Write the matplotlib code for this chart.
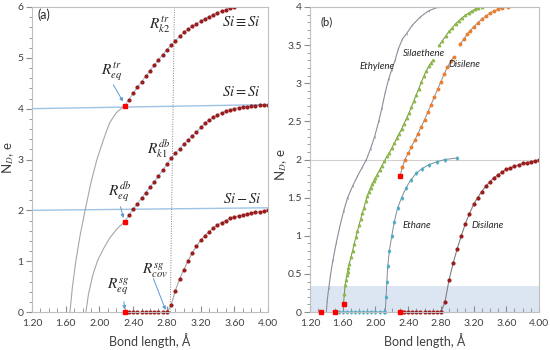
import matplotlib
matplotlib.use("Agg")
import matplotlib.pyplot as plt
from matplotlib.ticker import MultipleLocator, FormatStrFormatter

plt.rcParams["font.family"] = ["Lato", "DejaVu Sans"]
plt.rcParams["mathtext.fontset"] = "stix"

# ---- panel (a): Si-Si bond orders ----
tr_pre_x = [1.65, 1.68, 1.72, 1.77, 1.83, 1.90, 1.97, 2.05, 2.12, 2.20, 2.30]
tr_pre_y = [0.0, 0.5, 1.0, 1.5, 2.0, 2.55, 3.0, 3.4, 3.72, 3.92, 4.06]
tr_x = [2.30, 2.35, 2.40, 2.45, 2.50, 2.55, 2.60, 2.65, 2.70, 2.75, 2.80, 2.85, 2.90, 2.95,
        3.00, 3.05, 3.10, 3.15, 3.20, 3.25, 3.30, 3.35, 3.40, 3.45, 3.50, 3.55, 3.60]
tr_y = [4.06, 4.18, 4.30, 4.42, 4.53, 4.64, 4.75, 4.86, 4.96, 5.06, 5.16, 5.25, 5.34, 5.42,
        5.50, 5.56, 5.62, 5.67, 5.72, 5.77, 5.81, 5.85, 5.89, 5.92, 5.95, 5.98, 6.00]

db_pre_x = [1.84, 1.87, 1.92, 1.98, 2.05, 2.12, 2.20, 2.30]
db_pre_y = [0.0, 0.35, 0.72, 1.02, 1.25, 1.45, 1.62, 1.78]
db_x = [2.30, 2.35, 2.40, 2.45, 2.50, 2.55, 2.60, 2.65, 2.70, 2.75, 2.80, 2.85, 2.90, 2.95,
        3.00, 3.05, 3.10, 3.15, 3.20, 3.25, 3.30, 3.35, 3.40, 3.45, 3.50, 3.55, 3.60, 3.65,
        3.70, 3.75, 3.80, 3.85, 3.90, 3.95, 4.00]
db_y = [1.78, 1.90, 2.02, 2.13, 2.24, 2.35, 2.46, 2.56, 2.67, 2.79, 2.91, 3.02, 3.12, 3.21,
        3.30, 3.38, 3.46, 3.54, 3.63, 3.71, 3.77, 3.83, 3.88, 3.92, 3.95, 3.98, 4.00, 4.02,
        4.03, 4.04, 4.05, 4.06, 4.07, 4.075, 4.08]

sg_flat_x = [2.30, 2.35, 2.40, 2.45, 2.50, 2.55, 2.60, 2.65, 2.70, 2.75, 2.80]
sg_flat_y = [0.0] * 11
sg_x = [2.80, 2.85, 2.90, 2.95, 3.00, 3.05, 3.10, 3.15, 3.20, 3.25, 3.30, 3.35, 3.40, 3.45,
        3.50, 3.55, 3.60, 3.65, 3.70, 3.75, 3.80, 3.85, 3.90, 3.95, 4.00]
sg_y = [0.0, 0.13, 0.42, 0.64, 0.83, 1.00, 1.16, 1.29, 1.41, 1.50, 1.58, 1.65, 1.71, 1.76,
        1.80, 1.84, 1.87, 1.89, 1.91, 1.93, 1.95, 1.96, 1.97, 1.98, 2.00]

eq_a_x = [2.30, 2.30, 2.30]
eq_a_y = [4.06, 1.78, 0.0]

# ---- panel (b): molecules ----
ethylene_x = [1.40, 1.41, 1.43, 1.45, 1.48, 1.52, 1.56, 1.61, 1.66, 1.72, 1.78, 1.84, 1.89, 1.94,
              1.99, 2.04, 2.08, 2.12, 2.16, 2.20, 2.24, 2.28, 2.33, 2.38, 2.45, 2.55, 2.65, 2.77]
ethylene_y = [0.0, 0.15, 0.32, 0.48, 0.68, 0.90, 1.10, 1.32, 1.50, 1.65, 1.78, 1.90, 2.0, 2.14,
              2.30, 2.50, 2.68, 2.88, 3.05, 3.18, 3.30, 3.45, 3.58, 3.65, 3.76, 3.87, 3.95, 4.0]

silaethene_x = [1.61, 1.62, 1.63, 1.64, 1.65, 1.66, 1.67, 1.68, 1.70, 1.72, 1.74, 1.76, 1.78, 1.80,
                1.82, 1.84, 1.86, 1.88, 1.90, 1.92, 1.94, 1.96, 1.98, 2.00, 2.02, 2.05, 2.08, 2.11,
                2.14, 2.17, 2.20, 2.23, 2.26, 2.29, 2.32, 2.35, 2.38, 2.41, 2.44, 2.47, 2.50, 2.53,
                2.56, 2.59, 2.62, 2.65, 2.68, 2.71]
silaethene_y = [0.11, 0.24, 0.36, 0.42, 0.48, 0.53, 0.58, 0.63, 0.72, 0.80, 0.89, 0.98, 1.06, 1.14,
                1.22, 1.30, 1.37, 1.45, 1.52, 1.58, 1.63, 1.68, 1.72, 1.76, 1.80, 1.86, 1.92, 1.98,
                2.04, 2.09, 2.15, 2.21, 2.28, 2.34, 2.40, 2.47, 2.54, 2.61, 2.69, 2.77, 2.85, 2.93,
                3.01, 3.09, 3.16, 3.22, 3.27, 3.31]
silaethene2_x = [2.78, 2.82, 2.86, 2.90, 2.94, 2.98, 3.02, 3.06, 3.10, 3.14, 3.18, 3.22, 3.26, 3.30]
silaethene2_y = [3.50, 3.56, 3.62, 3.68, 3.73, 3.78, 3.82, 3.86, 3.89, 3.92, 3.95, 3.97, 3.99, 4.00]

disilene_x = [2.30, 2.33, 2.36, 2.40, 2.44, 2.48, 2.52, 2.56, 2.60, 2.64, 2.68, 2.72, 2.76, 2.80,
              2.84, 2.88, 2.92, 2.96]
disilene_y = [1.78, 1.90, 2.00, 2.08, 2.17, 2.25, 2.34, 2.43, 2.52, 2.62, 2.72, 2.82, 2.92, 3.02,
              3.12, 3.21, 3.29, 3.35]
disilene2_x = [3.04, 3.08, 3.12, 3.16, 3.20, 3.25, 3.30, 3.35, 3.40, 3.45, 3.50, 3.55, 3.62]
disilene2_y = [3.52, 3.58, 3.64, 3.69, 3.74, 3.79, 3.84, 3.88, 3.92, 3.95, 3.97, 3.99, 4.0]

ethane_x = [1.55, 1.60, 1.65, 1.70, 1.75, 1.80, 1.85, 1.90, 1.95, 2.00, 2.05, 2.10, 2.12, 2.13,
            2.14, 2.15, 2.17, 2.20, 2.23, 2.27, 2.32, 2.37, 2.43, 2.50, 2.57, 2.65, 2.75, 2.85, 3.00]
ethane_y = [0.0, 0.0, 0.0, 0.0, 0.0, 0.0, 0.0, 0.0, 0.0, 0.0, 0.0, 0.0, 0.0, 0.2,
            0.4, 0.6, 0.8, 1.0, 1.18, 1.36, 1.50, 1.62, 1.73, 1.82, 1.88, 1.93, 1.97, 2.0, 2.02]

eq_b_x = [1.33, 1.50, 1.61, 2.30, 2.30]
eq_b_y = [0.0, 0.0, 0.11, 0.0, 1.78]

DARKRED = "#9B1C1C"
RED = "#FF0000"
LBLUE = "#9DC3E6"
GRAY = "#A6A6A6"
ARROW = "#5B9BD5"
TXT = "#404040"
MS = 2.0

fig = plt.figure(figsize=(5.5, 3.5), dpi=100)
axa = fig.add_axes([32 / 550, 38 / 350, 236 / 550, 305 / 350])
axb = fig.add_axes([310 / 550, 38 / 350, 229 / 550, 305 / 350])


def style(ax, ymax, ymaj, ymin):
    ax.set_xlim(1.2, 4.0)
    ax.set_ylim(0, ymax)
    ax.xaxis.set_major_locator(MultipleLocator(0.4))
    ax.xaxis.set_minor_locator(MultipleLocator(0.1))
    ax.xaxis.set_major_formatter(FormatStrFormatter("%.2f"))
    ax.yaxis.set_major_locator(MultipleLocator(ymaj))
    ax.yaxis.set_minor_locator(MultipleLocator(ymin))
    for s in ax.spines.values():
        s.set_color("#BFBFBF")
        s.set_linewidth(0.8)
    ax.tick_params(axis="x", which="both", direction="in", color="#8C8C8C",
                   labelsize=7.5, labelcolor=TXT, pad=5)
    ax.tick_params(axis="x", which="major", length=4)
    ax.tick_params(axis="x", which="minor", length=3)
    ax.tick_params(axis="y", which="both", direction="out", color="#8C8C8C",
                   labelsize=7.5, labelcolor=TXT, pad=2)
    ax.tick_params(axis="y", which="major", length=4)
    ax.tick_params(axis="y", which="minor", length=2.5)
    ax.set_xlabel("Bond length, Å", fontsize=9, color=TXT, labelpad=4)


# ---- draw (a) ----
style(axa, 6, 1, 0.2)
axa.plot([1.2, 4.0], [4.0, 4.08], color=LBLUE, lw=1.0)
axa.plot([1.2, 4.0], [2.0, 2.05], color=LBLUE, lw=1.0)
axa.plot([2.84, 2.89], [0, 6], color="#7F7F7F", lw=0.7, ls=(0, (1, 1.5)))
axa.plot(tr_pre_x, tr_pre_y, color=GRAY, lw=0.8)
axa.plot(db_pre_x, db_pre_y, color=GRAY, lw=0.8)
axa.plot(tr_x, tr_y, color=LBLUE, lw=0.8, marker="o", ms=MS, mfc=DARKRED, mec=DARKRED)
axa.plot(db_x, db_y, color=LBLUE, lw=0.8, marker="o", ms=MS, mfc=DARKRED, mec=DARKRED)
axa.plot(sg_x, sg_y, color=GRAY, lw=0.8, marker="o", ms=MS, mfc=DARKRED, mec=DARKRED)
axa.plot(sg_flat_x, sg_flat_y, ls="none", marker="o", ms=MS, mfc=DARKRED, mec=DARKRED,
         clip_on=False)
axa.plot(eq_a_x, eq_a_y, ls="none", marker="s", ms=3.4, color=RED, clip_on=False, zorder=5)

axa.text(1.27, 5.84, "(a)", fontsize=9, color="#262626", va="center")
for txt, x, y in [(r"$Si \equiv Si$", 3.68, 5.71), (r"$Si = Si$", 3.68, 4.33),
                  (r"$Si - Si$", 3.70, 2.22)]:
    axa.text(x, y, txt, fontsize=10.5, ha="center", va="center", color="#262626")
for txt, x, y in [(r"$R_{k2}^{tr}$", 2.72, 5.63), (r"$R_{k1}^{db}$", 2.70, 3.22),
                  (r"$R_{eq}^{tr}$", 2.14, 4.73), (r"$R_{eq}^{db}$", 2.24, 2.37),
                  (r"$R_{eq}^{sg}$", 2.22, 0.50), (r"$R_{cov}^{sg}$", 2.66, 0.81)]:
    axa.text(x, y, txt, fontsize=11, ha="center", va="center", color="#262626")

arrows = [((2.165, 4.47), (2.28, 4.14)), ((2.25, 2.07), (2.285, 1.85)),
          ((2.29, 0.20), (2.30, 0.05)), ((2.64, 0.66), (2.785, 0.04))]
for (x0, y0), (x1, y1) in arrows:
    axa.annotate("", xy=(x1, y1), xytext=(x0, y0),
                 arrowprops=dict(arrowstyle="-|>", color=ARROW, lw=0.7,
                                 mutation_scale=5, shrinkA=0, shrinkB=0))

# ---- draw (b) ----
style(axb, 4, 0.5, 0.1)
axb.yaxis.set_major_formatter(FormatStrFormatter("%g"))
axb.axhspan(0, 0.34, color="#DCE6F2", lw=0)
axb.plot([1.2, 4.0], [2.0, 2.0], color="#D0D0D0", lw=0.8)
axb.plot(ethylene_x, ethylene_y, color="#8C8C9C", lw=0.8, marker="|", ms=1.5, mew=0.5)
axb.plot(silaethene_x, silaethene_y, color="#6E8F3E", lw=0.7, marker="^", ms=1.8,
         mfc="#8DB84A", mec="#8DB84A")
axb.plot(silaethene2_x, silaethene2_y, color="#6E8F3E", lw=0.7, marker="^", ms=1.8,
         mfc="#8DB84A", mec="#8DB84A")
axb.plot(disilene_x, disilene_y, color="#8C8C8C", lw=0.7, marker="o", ms=1.8,
         mfc="#ED7D31", mec="#ED7D31")
axb.plot(disilene2_x, disilene2_y, color="#8C8C8C", lw=0.7, marker="o", ms=1.8,
         mfc="#ED7D31", mec="#ED7D31")
axb.plot(ethane_x, ethane_y, color="#7F8C99", lw=0.7, marker="d", ms=1.7,
         mfc="#4BACC6", mec="#4BACC6", clip_on=False)
axb.plot(sg_x, sg_y, color="#7F7F7F", lw=0.8, marker="o", ms=MS, mfc=DARKRED, mec=DARKRED)
axb.plot(sg_flat_x, sg_flat_y, ls="none", marker="o", ms=MS, mfc=DARKRED, mec=DARKRED,
         clip_on=False)
axb.plot(eq_b_x, eq_b_y, ls="none", marker="s", ms=3.4, color=RED, clip_on=False, zorder=5)

axb.text(1.33, 3.81, "(b)", fontsize=8, color="#262626", va="center")
for txt, x, y in [("Ethylene", 2.02, 3.22), ("Silaethene", 2.59, 3.39), ("Disilene", 3.09, 3.24),
                  ("Ethane", 2.51, 1.13), ("Disilane", 3.37, 1.13)]:
    axb.text(x, y, txt, fontsize=7, style="italic", ha="center", va="center", color="#262626")

# y labels placed in figure coordinates
fig.text(8 / 550, 1 - 158 / 350, r"N$_D$, e", rotation=90, fontsize=9.5, color=TXT,
         ha="center", va="center")
fig.text(281 / 550, 1 - 165 / 350, r"N$_D$, e", rotation=90, fontsize=9.5, color=TXT,
         ha="center", va="center")

fig.savefig("out.png", dpi=100)
